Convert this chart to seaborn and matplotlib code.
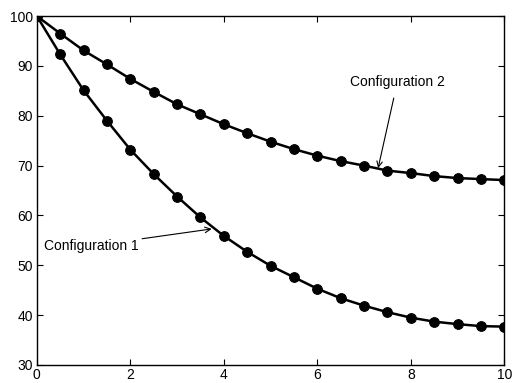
import pandas as pd
import matplotlib.pyplot as plt
import seaborn as sns

# Data
x = [0, 0.5, 1, 1.5, 2, 2.5, 3, 3.5, 4, 4.5, 5, 5.5, 6, 6.5, 7, 7.5, 8, 8.5, 9, 9.5, 10]
config1 = [100, 92.3, 85.1, 79.0, 73.2, 68.3, 63.8, 59.6, 55.9, 52.7, 49.9,
           47.6, 45.3, 43.4, 41.9, 40.6, 39.5, 38.7, 38.2, 37.8, 37.7]
config2 = [100, 96.5, 93.1, 90.3, 87.4, 84.8, 82.3, 80.3, 78.3, 76.5, 74.8,
           73.3, 72.0, 70.9, 70.0, 69.0, 68.5, 67.9, 67.5, 67.3, 67.1]

df = pd.concat([
    pd.DataFrame({'x': x, 'y': config1, 'series': 'Configuration 1'}),
    pd.DataFrame({'x': x, 'y': config2, 'series': 'Configuration 2'}),
])

sns.set_style('ticks')
plt.rcParams['font.family'] = ['Liberation Sans', 'DejaVu Sans']
plt.rcParams['text.color'] = 'black'

fig = plt.figure(figsize=(5.12, 3.83), dpi=100)
ax = fig.add_axes([0.072, 0.047, 0.913, 0.911])

sns.lineplot(data=df, x='x', y='y', hue='series', palette=['black', 'black'],
             marker='o', markersize=7, markeredgecolor='black', linewidth=1.8,
             legend=False, ax=ax)

ax.set_xlim(0, 10)
ax.set_ylim(30, 100)
ax.set_xticks([0, 2, 4, 6, 8, 10])
ax.set_yticks([30, 40, 50, 60, 70, 80, 90, 100])
ax.set_xlabel('')
ax.set_ylabel('')
ax.tick_params(direction='in', top=True, right=True, labelsize=10, length=4,
               colors='black')
ax.tick_params(axis='x', pad=2)
ax.tick_params(axis='y', pad=3)
for s in ax.spines.values():
    s.set_visible(True)
    s.set_color('black')
    s.set_linewidth(1.0)

ax.annotate('Configuration 2', xy=(7.3, 69.5), xytext=(7.71, 86.7),
            ha='center', va='center', fontsize=10, color='black',
            arrowprops=dict(arrowstyle='->', color='black', lw=0.8,
                            shrinkA=4, shrinkB=0))
ax.annotate('Configuration 1', xy=(3.74, 57.3), xytext=(1.17, 53.9),
            ha='center', va='center', fontsize=10, color='black',
            arrowprops=dict(arrowstyle='->', color='black', lw=0.8,
                            shrinkA=0, shrinkB=0))

fig.savefig('out.png', dpi=100)
